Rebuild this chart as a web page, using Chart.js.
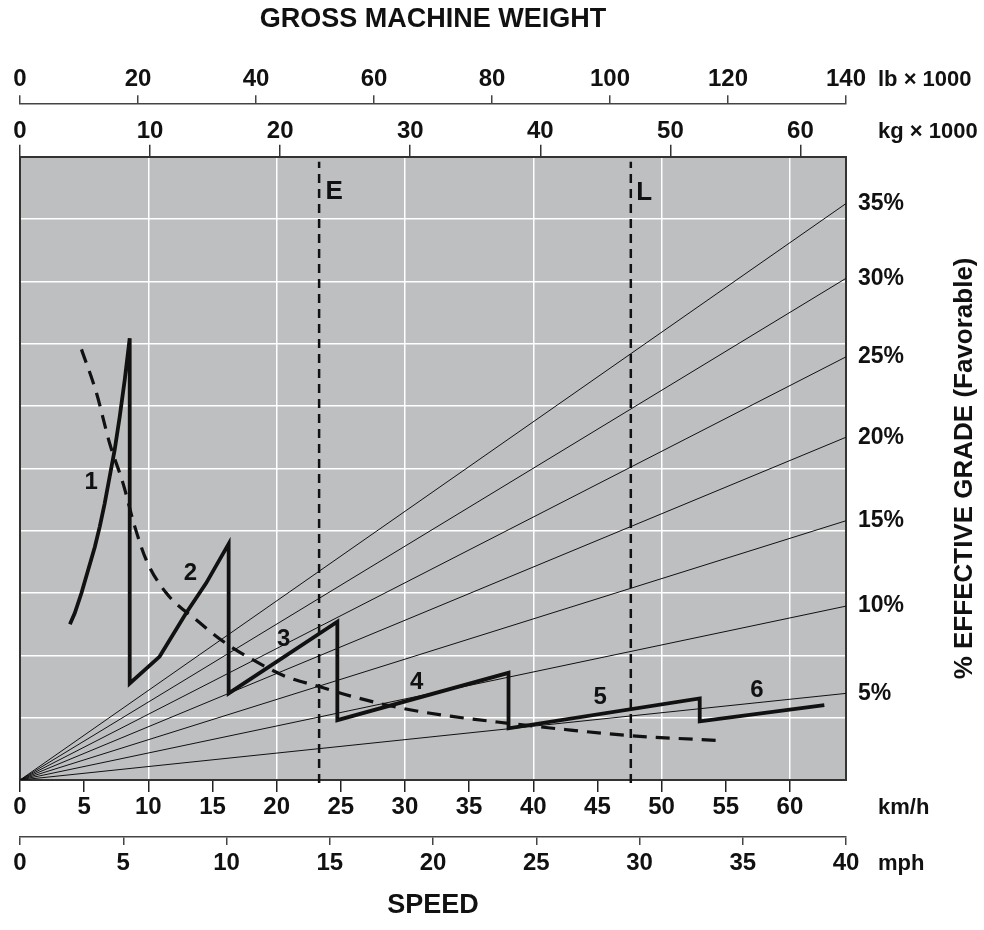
<!DOCTYPE html>
<html>
<head>
<meta charset="utf-8">
<script src="https://cdn.jsdelivr.net/npm/chart.js@4.4.1/dist/chart.umd.min.js"></script>
<style>
  html, body { margin: 0; padding: 0; background: #fff; }
</style>
</head>
<body>
<canvas id="myChart" width="984" height="930"></canvas>
<script>
const FONT = '"Liberation Sans", Arial, sans-serif';

// speed axes (40 mph = 64.37 km/h)
const kmhMax = 64.37;
const kmhTicks = [0, 5, 10, 15, 20, 25, 30, 35, 40, 45, 50, 55, 60];
const mphMax = 40;
const mphTicks = [0, 5, 10, 15, 20, 25, 30, 35, 40];

// weight axes (140 lb x 1000 = 63.5 kg x 1000)
const kgMax = 63.5;
const kgTicks = [0, 10, 20, 30, 40, 50, 60];
const lbMax = 140;
const lbTicks = [0, 20, 40, 60, 80, 100, 120, 140];

// grade lines, value where each one meets the right edge (grid units 0..10)
const gradeNames = ['35%', '30%', '25%', '20%', '15%', '10%', '5%'];
const gradeEnds = [9.25, 8.05, 6.79, 5.50, 4.16, 2.79, 1.39];

// gears 1-6 curve
const gearSpeed = [3.89, 4.27, 4.79, 5.31, 5.83, 6.22, 6.60, 6.99, 7.38, 7.77, 8.16, 8.55,
                   8.55, 10.88, 12.95, 14.51, 16.26, 16.26, 24.73, 24.73, 38.07, 38.07, 52.97, 52.97, 62.68];
const gearForce = [2.50, 2.68, 3.00, 3.37, 3.74, 4.07, 4.44, 4.87, 5.30, 5.83, 6.42, 7.09,
                   1.55, 1.98, 2.68, 3.16, 3.79, 1.39, 2.54, 0.96, 1.72, 0.83, 1.31, 0.94, 1.20];
const gearNames = ['1', '2', '3', '4', '5', '6'];
const gearNoteSpeed = [5.54, 13.29, 20.55, 30.92, 45.22, 57.42];
const gearNoteForce = [4.78, 3.32, 2.26, 1.57, 1.32, 1.44];

// dashed curve
const brakeSpeed = [4.79, 5.96, 6.99, 8.03, 8.94, 9.84, 11.40, 13.73, 16.06, 18.13, 20.72,
                    23.31, 25.90, 29.78, 33.67, 38.07, 42.48, 47.65, 52.84, 54.78];
const brakeForce = [6.91, 6.21, 5.40, 4.76, 4.07, 3.53, 3.00, 2.57, 2.19, 1.93, 1.66,
                    1.50, 1.34, 1.15, 1.02, 0.91, 0.81, 0.71, 0.65, 0.63];

// E and L weight limits
const limitNames = ['E', 'L'];
const limitSpeed = [23.31, 47.6];
const limitNoteSpeed = [24.48, 48.64];
const limitNoteForce = [9.43, 9.42];

const pts = (xs, ys) => xs.map((x, i) => ({ x: x, y: ys[i] }));
const tickFont = { family: FONT, size: 24, weight: 'bold', lineHeight: 1 };

const datasets = [
  { data: pts(gearSpeed, gearForce), borderColor: '#111', borderWidth: 3.8, borderJoinStyle: 'miter' },
  { data: pts(brakeSpeed, brakeForce), borderColor: '#111', borderWidth: 3.2, borderDash: [14, 9],
    cubicInterpolationMode: 'monotone' }
];
limitSpeed.forEach(v => datasets.push({
  data: [{ x: v, y: -0.05 }, { x: v, y: 9.92 }], borderColor: '#111', borderWidth: 2.5,
  borderDash: [9, 6], clip: false
}));
gradeEnds.forEach(v => datasets.push({
  data: [{ x: 0, y: 0 }, { x: kmhMax, y: v }], borderColor: '#111', borderWidth: 1
}));

function labelMid(s) {
  const o = s.options;
  const off = o.grid.tickLength + o.ticks.padding + o.ticks.font.size / 2;
  return s.position === 'top' ? s.bottom - off : s.top + off;
}

const notes = {
  id: 'notes',
  beforeDraw(chart) {
    const { ctx, chartArea: a } = chart;
    ctx.save();
    ctx.fillStyle = '#bebfc1';
    ctx.fillRect(a.left, a.top, a.right - a.left, a.bottom - a.top);
    ctx.restore();
  },
  afterDatasetsDraw(chart) {
    const { ctx, chartArea: a, scales } = chart;
    ctx.save();
    ctx.fillStyle = '#111';
    ctx.textAlign = 'center';
    ctx.textBaseline = 'middle';
    ctx.font = 'bold 24px ' + FONT;
    gearNames.forEach((t, i) => ctx.fillText(t,
      scales.x.getPixelForValue(gearNoteSpeed[i]), scales.y.getPixelForValue(gearNoteForce[i])));
    ctx.font = 'bold 26px ' + FONT;
    limitNames.forEach((t, i) => ctx.fillText(t,
      scales.x.getPixelForValue(limitNoteSpeed[i]), scales.y.getPixelForValue(limitNoteForce[i])));

    // unit labels to the right of each axis
    ctx.textAlign = 'left';
    ctx.font = 'bold 22px ' + FONT;
    [['lb', 'lb \u00d7 1000'], ['kg', 'kg \u00d7 1000'], ['x', 'km/h'], ['mph', 'mph']].forEach(([id, t]) => {
      ctx.fillText(t, a.right + 32, labelMid(scales[id]));
    });

    ctx.textAlign = 'center';
    ctx.font = 'bold 26px ' + FONT;
    ctx.translate(965, (a.top + a.bottom) / 2);
    ctx.rotate(-Math.PI / 2);
    ctx.fillText('% EFFECTIVE GRADE (Favorable)', 0, 0);
    ctx.restore();
  }
};

const ctx = document.getElementById('myChart').getContext('2d');

const myChart = new Chart(ctx, {
  type: 'line',
  data: { datasets: datasets },
  plugins: [notes],
  options: {
    responsive: false,
    animation: false,
    layout: { padding: 0 },
    elements: { point: { radius: 0 }, line: { tension: 0, fill: false } },
    plugins: {
      legend: { display: false },
      tooltip: { enabled: false },
      title: {
        display: true, fullSize: false, text: 'GROSS MACHINE WEIGHT', color: '#111',
        font: { family: FONT, size: 27, weight: 'bold' }, padding: { top: 3, bottom: 0 }
      }
    },
    scales: {
      x: {
        type: 'linear', position: 'bottom', weight: 0, min: 0, max: kmhMax,
        afterBuildTicks: s => { s.ticks = kmhTicks.map(v => ({ value: v })); },
        afterFit: s => { s.height = 57; },
        grid: {
          color: c => (c.tick && c.tick.value > 0 && c.tick.value % 10 === 0) ? '#ffffff' : 'rgba(0,0,0,0)',
          lineWidth: 1.5, tickColor: '#222', tickWidth: 1.5, tickLength: 12
        },
        border: { color: '#333', width: 2 },
        ticks: { font: tickFont, color: '#111', padding: 3.5, maxRotation: 0, autoSkip: false }
      },
      mph: {
        type: 'linear', position: 'bottom', weight: 1, min: 0, max: mphMax,
        afterBuildTicks: s => { s.ticks = mphTicks.map(v => ({ value: v })); },
        afterFit: s => { s.height = 93; },
        grid: { drawOnChartArea: false, color: '#444', lineWidth: 1.5, tickLength: 8 },
        border: { color: '#444', width: 1.5 },
        ticks: { font: tickFont, color: '#111', padding: 6.8, maxRotation: 0, autoSkip: false },
        title: {
          display: true, text: 'SPEED', color: '#111',
          font: { family: FONT, size: 27, weight: 'bold' }, padding: { top: 0, bottom: 8 }
        }
      },
      kg: {
        type: 'linear', position: 'top', weight: 0, min: 0, max: kgMax,
        afterBuildTicks: s => { s.ticks = kgTicks.map(v => ({ value: v })); },
        afterFit: s => { s.height = 53.5; },
        grid: { drawOnChartArea: false, color: '#333', lineWidth: 1.5, tickLength: 12 },
        border: { color: '#333', width: 2 },
        ticks: { font: tickFont, color: '#111', padding: 1.2, maxRotation: 0, autoSkip: false }
      },
      lb: {
        type: 'linear', position: 'top', weight: 1, min: 0, max: lbMax,
        afterBuildTicks: s => { s.ticks = lbTicks.map(v => ({ value: v })); },
        afterFit: s => { s.height = 67.9; },
        grid: { drawOnChartArea: false, color: '#444', lineWidth: 1.5, tickLength: 8 },
        border: { color: '#444', width: 1.5 },
        ticks: { font: tickFont, color: '#111', padding: 3.6, maxRotation: 0, autoSkip: false }
      },
      y: {
        type: 'linear', position: 'left', min: 0, max: 10,
        afterFit: s => { s.width = 20; },
        ticks: { display: false, stepSize: 1 },
        grid: {
          color: c => (c.tick && c.tick.value > 0 && c.tick.value < 10) ? '#ffffff' : 'rgba(0,0,0,0)',
          lineWidth: 1.5, drawTicks: false
        },
        border: { color: '#333', width: 2 }
      },
      grade: {
        type: 'linear', position: 'right', min: 0, max: 10,
        afterBuildTicks: s => { s.ticks = gradeEnds.map(v => ({ value: v })); },
        afterFit: s => { s.width = 138; },
        grid: { display: false, drawTicks: false },
        border: { color: '#333', width: 2 },
        ticks: {
          font: { family: FONT, size: 23, weight: 'bold', lineHeight: 1 }, color: '#111', padding: 12,
          autoSkip: false, callback: (v, i) => gradeNames[i]
        }
      }
    }
  }
});
</script>
</body>
</html>
